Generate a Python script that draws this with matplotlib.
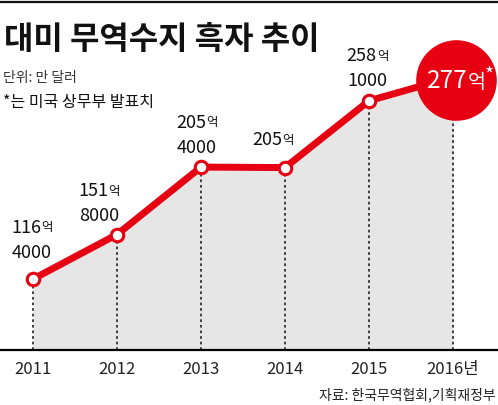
import matplotlib.pyplot as plt
from matplotlib.transforms import offset_copy

plt.rcParams['font.family'] = ['Noto Sans CJK KR', 'DejaVu Sans']

# data: 대미 무역수지 흑자 (억 달러)
years = [2011, 2012, 2013, 2014, 2015, 2016]
values = [116.4, 151.8, 205.4, 205.0, 258.1, 277.0]
year_labels = ['2011', '2012', '2013', '2014', '2015', '2016년']

title = '대미 무역수지 흑자 추이'
unit_note = '단위: 만 달러'
star_note = '*는 미국 상무부 발표치'
source = '자료: 한국무역협회,기획재정부'

RED = '#e60012'
PX = 0.72  # points per pixel at dpi 100

# label offsets in pixels (dx, dy) relative to each point
label_offsets = [(-1, 28), (-18, 20), (-4, 21), (-12, 29), (-2, 21)]


def split_value(v):
    eok = int(v)
    man = int(round((v - eok) * 10000))
    return str(eok), (str(man) if man else None)


fig = plt.figure(figsize=(4.98, 4.05), dpi=100)
ax = fig.add_axes([0, 1 - 350 / 405, 1, 350 / 405])
ax.set_xlim(2011 - 33 / 84, 2011 + 465 / 84)
ax.set_ylim(60.0, 338.2)

ax.fill_between(years, values, 60.0, color='#e6e6e6', zorder=1, lw=0)
ax.vlines(years, 60.0, values, colors='#333333', linestyles=(0, (1.5, 1.6)),
          lw=1.3, zorder=2)
ax.plot(years, values, color=RED, lw=5, solid_capstyle='butt', zorder=3)
ax.plot(years[:-1], values[:-1], 'o', ms=9, mfc='white', mec=RED, mew=2.2,
        zorder=4)
# the big badge sits a little right/below the last point
badge_tr = offset_copy(ax.transData, fig=fig, x=3, y=-3, units='dots')
ax.plot(years[-1], values[-1], 'o', ms=57, color=RED, zorder=5,
        transform=badge_tr)

for spine in ['top', 'left', 'right']:
    ax.spines[spine].set_visible(False)
ax.spines['bottom'].set_linewidth(1.6)
ax.set_yticks([])
ax.set_xticks(years)
ax.set_xticklabels(year_labels, fontsize=12, color='#222222')
ax.tick_params(axis='x', length=0, pad=8)

# value labels
for x, v, (dx, dy) in zip(years[:-1], values[:-1], label_offsets):
    eok, man = split_value(v)
    if man:
        ax.annotate(man, (x, v), xytext=(dx * PX, (dy - 6.5) * PX),
                    textcoords='offset points', ha='center', va='baseline',
                    fontsize=13, color='#111111')
        base1 = dy + 18.5
    else:
        base1 = dy - 6.5
    num = ax.annotate(eok, (x, v), xytext=((dx - 6) * PX, base1 * PX),
                      textcoords='offset points', ha='center', va='baseline',
                      fontsize=13, color='#111111')
    ax.annotate('억', xy=(1, v), xycoords=(num, 'data'),
                xytext=(0.5, (base1 + 1.5) * PX), textcoords='offset points',
                ha='left', va='baseline', fontsize=9, color='#111111')

# big label on the last point
eok, _ = split_value(values[-1])
base = -11
big = ax.annotate(eok, (years[-1], values[-1]), xytext=(-6 * PX, base * PX),
                  textcoords='offset points', ha='center', va='baseline',
                  fontsize=17.5, color='white', zorder=6)
tail = ax.annotate('억', xy=(1, values[-1]), xycoords=(big, 'data'),
                   xytext=(0, base * PX), textcoords='offset points',
                   ha='left', va='baseline', fontsize=14, color='white',
                   zorder=6)
ax.annotate('*', xy=(1, values[-1]), xycoords=(tail, 'data'),
            xytext=(0, (base + 6) * PX), textcoords='offset points',
            ha='left', va='baseline', fontsize=14, color='white', zorder=6)

# header and notes
fig.add_artist(plt.Line2D([0, 1], [1 - 1.5 / 405] * 2, color='#111111', lw=1.6))
fig.text(4 / 498, 1 - 40 / 405, title, fontsize=23, fontweight='bold',
         color='#111111', va='center', ha='left')
fig.text(3 / 498, 1 - 78 / 405, unit_note, fontsize=10, color='#333333',
         va='center', ha='left')
fig.text(3 / 498, 1 - 103 / 405, star_note, fontsize=11.5, color='#111111',
         va='center', ha='left')
fig.text(496 / 498, 1 - 395 / 405, source, fontsize=10, color='#222222',
         va='center', ha='right')

fig.savefig('out.png', dpi=100)
